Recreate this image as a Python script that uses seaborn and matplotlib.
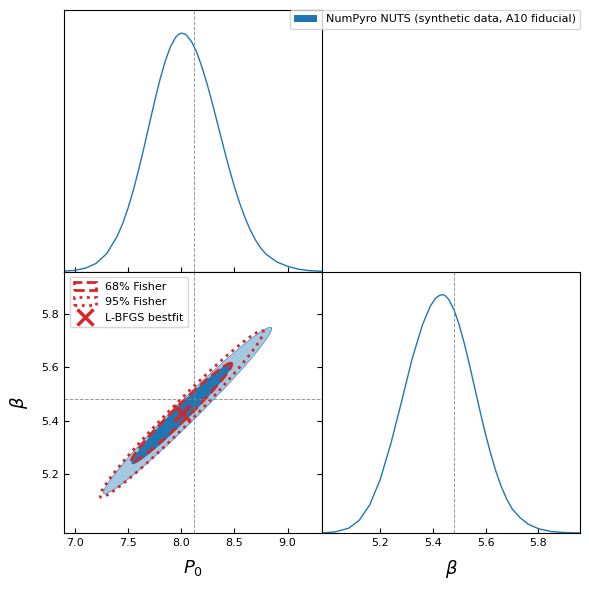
import numpy as np
import matplotlib
matplotlib.use('Agg')
import matplotlib.pyplot as plt
from matplotlib.patches import Patch
from matplotlib.lines import Line2D
import seaborn as sns

# marginal of P0 (peak normalised to 1)
p0_grid = [6.90, 7.00, 7.10, 7.20, 7.30, 7.40, 7.45, 7.50, 7.55, 7.60,
           7.65, 7.70, 7.75, 7.80, 7.85, 7.90, 7.95, 7.98, 8.005, 8.03,
           8.05, 8.10, 8.15, 8.20, 8.25, 8.30, 8.35, 8.40, 8.45, 8.50,
           8.55, 8.60, 8.65, 8.70, 8.75, 8.80, 8.90, 9.00, 9.10, 9.20, 9.324]
p0_dens = [0.002, 0.005, 0.014, 0.034, 0.075, 0.149, 0.201, 0.265, 0.341, 0.426,
           0.519, 0.616, 0.713, 0.804, 0.882, 0.944, 0.984, 0.996, 1.0, 0.997,
           0.992, 0.963, 0.915, 0.852, 0.777, 0.694, 0.607, 0.519, 0.435, 0.357,
           0.287, 0.226, 0.174, 0.131, 0.097, 0.072, 0.040, 0.022, 0.010, 0.004, 0.001]

# marginal of beta
beta_grid = [4.98, 5.03, 5.08, 5.12, 5.16, 5.20, 5.24, 5.28, 5.32, 5.36,
             5.39, 5.41, 5.425, 5.435, 5.445, 5.46, 5.48, 5.50, 5.52, 5.54,
             5.56, 5.58, 5.60, 5.62, 5.64, 5.66, 5.68, 5.70, 5.73, 5.76,
             5.80, 5.85, 5.90, 5.957]
beta_dens = [0.0, 0.005, 0.020, 0.053, 0.118, 0.225, 0.374, 0.547, 0.727, 0.873,
             0.952, 0.985, 0.997, 1.0, 0.997, 0.980, 0.936, 0.872, 0.791, 0.699,
             0.602, 0.505, 0.413, 0.329, 0.255, 0.193, 0.142, 0.102, 0.065, 0.038,
             0.018, 0.006, 0.002, 0.0]

# 2D contours: centre P0, centre beta, half extent P0, half extent beta, correlation
post_outer = [8.060, 5.4375, 0.791, 0.312, 0.983]
post_inner = [8.006, 5.426, 0.470, 0.188, 0.979]
fisher_68 = [8.003, 5.429, 0.474, 0.186, 0.979]
fisher_95 = [8.006, 5.425, 0.768, 0.312, 0.982]

bestfit = [8.006, 5.427]
truth = [8.124, 5.481]

p0_ticks = [7.0, 7.5, 8.0, 8.5, 9.0]
beta_ticks = [5.2, 5.4, 5.6, 5.8]
p0_lim = (6.899, 9.324)
beta_lim = (4.979, 5.958)

blue = '#1f77b4'
red = '#d62728'


def ellipse(c):
    t = np.linspace(0, 2 * np.pi, 400)
    cx, cy, a, b, rho = c
    x = cx + a * np.cos(t)
    y = cy + b * (rho * np.cos(t) + np.sqrt(1 - rho ** 2) * np.sin(t))
    return x, y


fig, axes = plt.subplots(2, 2, figsize=(5.89, 5.90), dpi=100)
plt.subplots_adjust(left=0.1087, right=0.9847, top=0.983, bottom=0.0966,
                    wspace=0, hspace=0)
ax_top, ax_leg = axes[0]
ax_2d, ax_b = axes[1]

# ---- top: P0 marginal ----
sns.lineplot(x=p0_grid, y=p0_dens, ax=ax_top, color=blue, lw=1)
ax_top.axvline(truth[0], color='grey', ls='--', lw=0.7, alpha=0.8)
ax_top.set_xlim(p0_lim)
ax_top.set_ylim(0, 1.097)
ax_top.set_xticks(p0_ticks)
ax_top.set_xticklabels([])
ax_top.set_yticks([])
ax_top.tick_params(direction='in')

# ---- bottom right: beta marginal ----
sns.lineplot(x=beta_grid, y=beta_dens, ax=ax_b, color=blue, lw=1)
ax_b.axvline(truth[1], color='grey', ls='--', lw=0.7, alpha=0.8)
ax_b.set_xlim(beta_lim)
ax_b.set_ylim(0, 1.097)
ax_b.set_xticks(beta_ticks)
ax_b.set_yticks([])
ax_b.tick_params(direction='in', labelsize=8)
ax_b.set_xlabel(r'$\beta$', fontsize=13, labelpad=7)

# ---- bottom left: 2D ----
x, y = ellipse(post_outer)
ax_2d.fill(x, y, color=blue, alpha=0.4, lw=0)
ax_2d.plot(x, y, color=blue, lw=0.5, alpha=0.8)
x, y = ellipse(post_inner)
ax_2d.fill(x, y, color=blue, lw=0)
ax_2d.plot(x, y, color=blue, lw=0.5)
x, y = ellipse(fisher_68)
ax_2d.plot(x, y, color=red, ls='--', lw=2)
x, y = ellipse(fisher_95)
ax_2d.plot(x, y, color=red, ls=':', lw=2)
ax_2d.plot(bestfit[0], bestfit[1], marker='x', color=red, ms=12, mew=2.5, ls='none')
ax_2d.axvline(truth[0], color='grey', ls='--', lw=0.7, alpha=0.8)
ax_2d.axhline(truth[1], color='grey', ls='--', lw=0.7, alpha=0.8)
ax_2d.set_xlim(p0_lim)
ax_2d.set_ylim(beta_lim)
ax_2d.set_xticks(p0_ticks)
ax_2d.set_yticks(beta_ticks)
ax_2d.tick_params(direction='in', right=True, labelsize=8)
ax_2d.set_xlabel(r'$P_0$', fontsize=13, labelpad=7)
ax_2d.set_ylabel(r'$\beta$', fontsize=13, labelpad=8)

handles = [
    Patch(facecolor='none', edgecolor=red, ls='--', lw=2, label='68% Fisher'),
    Patch(facecolor='none', edgecolor=red, ls=':', lw=2, label='95% Fisher'),
    Line2D([], [], marker='x', color=red, ms=12, mew=2.5, ls='none', label='L-BFGS bestfit'),
]
ax_2d.legend(handles=handles, loc='upper left', fontsize=8)

# ---- top right: legend only ----
ax_leg.axis('off')
ax_leg.legend(handles=[Patch(facecolor=blue, label='NumPyro NUTS (synthetic data, A10 fiducial)')],
              loc='upper right', fontsize=8, borderaxespad=0)

fig.savefig('out.png', dpi=100)
